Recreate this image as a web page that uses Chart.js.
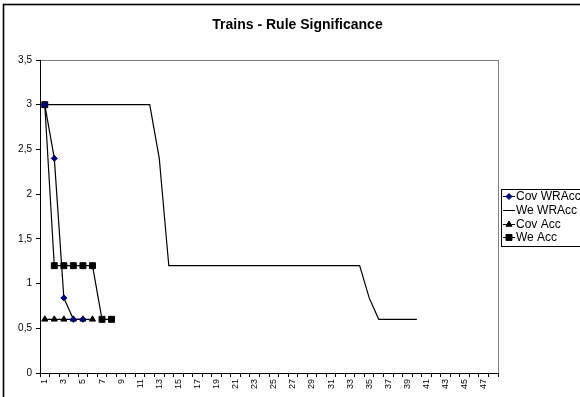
<!DOCTYPE html>
<html>
<head>
<meta charset="utf-8">
<script src="https://cdn.jsdelivr.net/npm/chart.js@4.4.1/dist/chart.umd.min.js"></script>
<style>
  html, body { margin: 0; padding: 0; background: #ffffff; }
  #wrap { width: 580px; height: 397px; position: relative; }
</style>
</head>
<body>
<div id="wrap"><canvas id="c" width="580" height="397"></canvas></div>
<script>
// ---- data ----
const categories = ["1","2","3","4","5","6","7","8","9","10","11","12","13","14","15","16","17","18","19","20","21","22","23","24","25","26","27","28","29","30","31","32","33","34","35","36","37","38","39","40","41","42","43","44","45","46","47","48"];
const covWRAcc = [3, 2.4, 0.84, 0.6, 0.6];
const weWRAcc  = [3, 3, 3, 3, 3, 3, 3, 3, 3, 3, 3, 3, 2.4, 1.2, 1.2, 1.2, 1.2, 1.2, 1.2, 1.2, 1.2, 1.2, 1.2, 1.2, 1.2, 1.2, 1.2, 1.2, 1.2, 1.2, 1.2, 1.2, 1.2, 1.2, 0.84, 0.6, 0.6, 0.6, 0.6, 0.6];
const covAcc   = [0.6, 0.6, 0.6, 0.6, 0.6, 0.6];
const weAcc    = [3, 1.2, 1.2, 1.2, 1.2, 1.2, 0.6, 0.6];
const seriesNames = ["Cov WRAcc", "We WRAcc", "Cov Acc", "We Acc"];
const yTicks = [0, 0.5, 1, 1.5, 2, 2.5, 3, 3.5];
const titleText = "Trains - Rule Significance";

const FONT = "Arial, 'Liberation Sans', sans-serif";

const frame = {
  id: 'frame',
  beforeDraw(chart) {
    const ctx = chart.ctx, a = chart.chartArea;
    ctx.save();
    ctx.fillStyle = '#ffffff';
    ctx.fillRect(0, 0, chart.width, chart.height);
    // outer chart border
    ctx.strokeStyle = '#000000';
    ctx.lineWidth = 1.6;
    ctx.strokeRect(3.5, 4.5, 700, 500);
    // plot area gray frame
    ctx.strokeStyle = '#808080';
    ctx.lineWidth = 1;
    ctx.strokeRect(Math.round(a.left) + 0.5, Math.round(a.top) + 0.5, Math.round(a.right - a.left), Math.round(a.bottom - a.top));
    ctx.restore();
  },
  afterDraw(chart) {
    const ctx = chart.ctx;
    const x0 = 501, y0 = 189, h = 57, rowH = 13.8;
    ctx.save();
    ctx.strokeStyle = '#000000';
    ctx.lineWidth = 1;
    ctx.strokeRect(x0 + 0.5, y0 + 0.5, 120, h);
    ctx.font = '12px ' + FONT;
    ctx.textBaseline = 'middle';
    ctx.fillStyle = '#000000';
    chart.data.datasets.forEach((ds, i) => {
      const cy = Math.round(y0 + 7 + i * rowH);
      ctx.strokeStyle = '#000000';
      ctx.lineWidth = 1;
      ctx.beginPath();
      ctx.moveTo(x0 + 2, cy + 0.5);
      ctx.lineTo(x0 + 14, cy + 0.5);
      ctx.stroke();
      if (ds.pointStyle && ds.pointRadius > 0) {
        ctx.fillStyle = ds.pointBackgroundColor;
        ctx.strokeStyle = ds.pointBorderColor;
        Chart.helpers.drawPoint(ctx, { pointStyle: ds.pointStyle, radius: ds.pointRadius, borderWidth: 1, rotation: 0 }, x0 + 8, cy + 0.5);
      }
      ctx.fillStyle = '#000000';
      ctx.fillText(ds.label, x0 + 15, cy + 1);
    });
    ctx.restore();
  }
};

const mk = (label, data, style, radius, color) => ({
  label, data, yAxisID: 'y',
  borderColor: '#000000', borderWidth: 1.2,
  pointStyle: style, pointRadius: radius, pointHoverRadius: radius,
  pointBackgroundColor: color, pointBorderColor: color, pointBorderWidth: 1,
  tension: 0, fill: false
});

new Chart(document.getElementById('c'), {
  type: 'line',
  data: {
    labels: categories,
    datasets: [
      mk(seriesNames[0], covWRAcc, 'rectRot', 3, '#000080'),
      mk(seriesNames[1], weWRAcc, false, 0, '#000000'),
      mk(seriesNames[2], covAcc, 'triangle', 3.5, '#000000'),
      mk(seriesNames[3], weAcc, 'rect', 4.2, '#000000')
    ]
  },
  options: {
    responsive: false,
    animation: false,
    events: [],
    layout: { padding: { left: 15, right: 0, top: 0, bottom: 0 } },
    plugins: {
      legend: { display: false },
      tooltip: { enabled: false },
      title: {
        display: true, text: titleText, color: '#000000',
        font: { family: FONT, size: 14, weight: 'bold', lineHeight: 1.2 },
        padding: { top: 16.5, bottom: 26.7 },
        fullSize: true
      }
    },
    scales: {
      x: {
        type: 'category',
        offset: true,
        grid: { display: true, offset: true, drawOnChartArea: false, drawTicks: true, tickLength: 4, color: '#000000', tickColor: '#000000' },
        border: { display: true, color: '#000000', width: 1 },
        ticks: {
          autoSkip: false, maxRotation: 90, minRotation: 90, padding: 2,
          color: '#000000', font: { family: FONT, size: 9 },
          callback: (v, i) => (i % 2 === 0 ? categories[i] : '')
        },
        afterFit: s => { s.height = 24; }
      },
      y: {
        min: 0, max: 3.5,
        afterBuildTicks: s => { s.ticks = yTicks.map(v => ({ value: v })); },
        grid: { display: true, drawOnChartArea: false, drawTicks: true, tickLength: 4, color: '#000000', tickColor: '#000000' },
        border: { display: true, color: '#000000', width: 1 },
        ticks: {
          padding: 4, color: '#000000', font: { family: FONT, size: 10 },
          callback: v => String(v).replace('.', ',')
        },
        afterFit: s => { s.width = 25; }
      },
      legendSpace: {
        type: 'linear', position: 'right', display: true,
        grid: { display: false, drawTicks: false },
        border: { display: false },
        ticks: { display: false },
        afterFit: s => { s.width = 82; }
      }
    }
  },
  plugins: [frame]
});
</script>
</body>
</html>
